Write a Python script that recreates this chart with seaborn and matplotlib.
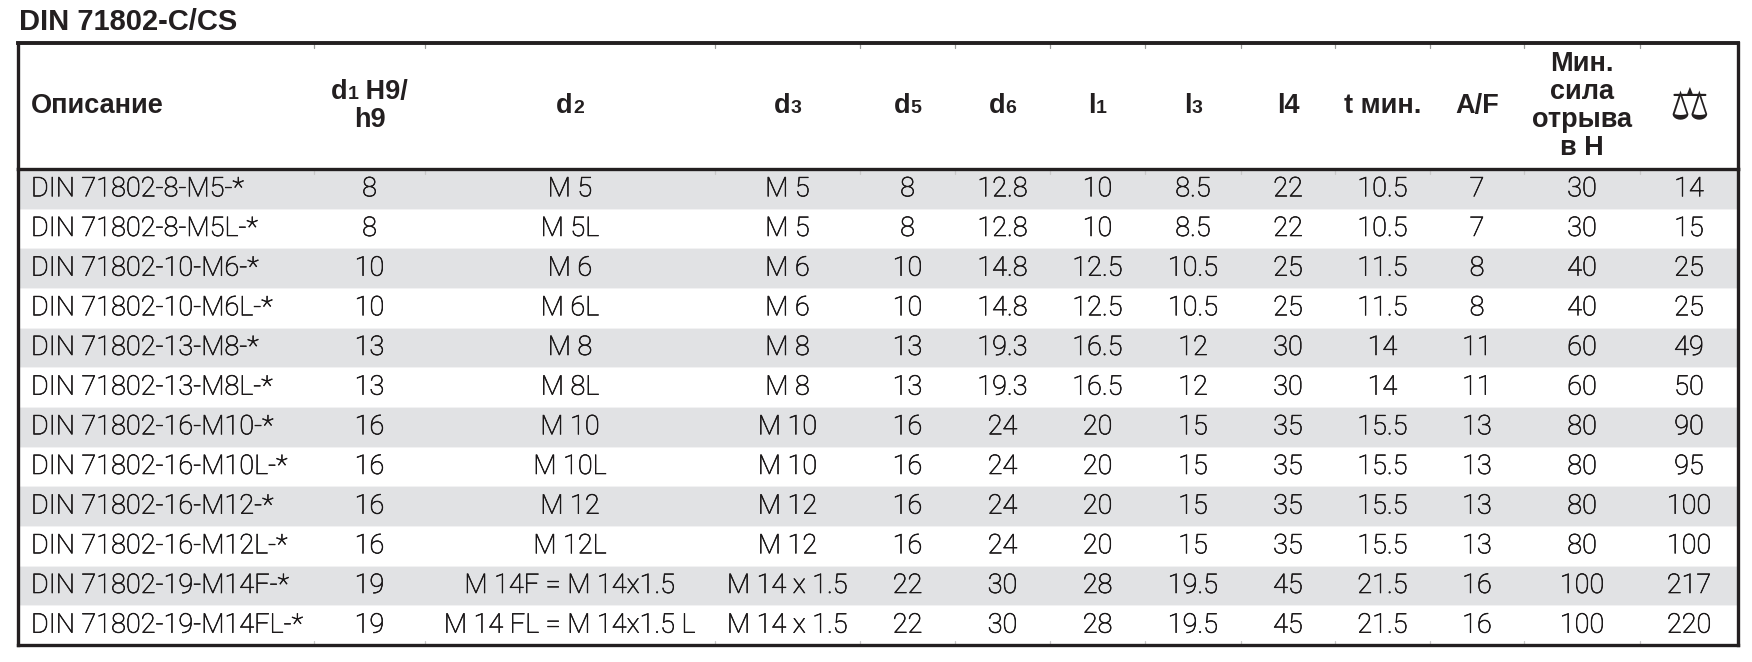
import numpy as np
import pandas as pd
import matplotlib
matplotlib.use("Agg")
import matplotlib.pyplot as plt
import matplotlib.patheffects as pe
from matplotlib.colors import ListedColormap
from matplotlib.transforms import blended_transform_factory
from matplotlib.offsetbox import TextArea, HPacker, VPacker, AnnotationBbox
import seaborn as sns

# ---------------- data ----------------
title = "DIN 71802-C/CS"
# header labels: list of lines, each line a list of (text, is_small) pieces
headers = [
    [[("Описание", False)]],
    [[("d", False), ("1", True), (" H9/", False)], [("h9", False)]],
    [[("d", False), ("2", True)]],
    [[("d", False), ("3", True)]],
    [[("d", False), ("5", True)]],
    [[("d", False), ("6", True)]],
    [[("l", False), ("1", True)]],
    [[("l", False), ("3", True)]],
    [[("l4", False)]],
    [[("t мин.", False)]],
    [[("A/F", False)]],
    [[("Мин.", False)], [("сила", False)], [("отрыва", False)], [("в Н", False)]],
    [[("⚖", False)]],
]
descriptions = ["DIN 71802-8-M5-*", "DIN 71802-8-M5L-*", "DIN 71802-10-M6-*",
                "DIN 71802-10-M6L-*", "DIN 71802-13-M8-*", "DIN 71802-13-M8L-*",
                "DIN 71802-16-M10-*", "DIN 71802-16-M10L-*", "DIN 71802-16-M12-*",
                "DIN 71802-16-M12L-*", "DIN 71802-19-M14F-*", "DIN 71802-19-M14FL-*"]
d1 = ["8", "8", "10", "10", "13", "13", "16", "16", "16", "16", "19", "19"]
d2 = ["M 5", "M 5L", "M 6", "M 6L", "M 8", "M 8L", "M 10", "M 10L", "M 12", "M 12L",
      "M 14F = M 14x1.5", "M 14 FL = M 14x1.5 L"]
d3 = ["M 5", "M 5", "M 6", "M 6", "M 8", "M 8", "M 10", "M 10", "M 12", "M 12",
      "M 14 x 1.5", "M 14 x 1.5"]
d5 = ["8", "8", "10", "10", "13", "13", "16", "16", "16", "16", "22", "22"]
d6 = ["12.8", "12.8", "14.8", "14.8", "19.3", "19.3", "24", "24", "24", "24", "30", "30"]
l1 = ["10", "10", "12.5", "12.5", "16.5", "16.5", "20", "20", "20", "20", "28", "28"]
l3 = ["8.5", "8.5", "10.5", "10.5", "12", "12", "15", "15", "15", "15", "19.5", "19.5"]
l4 = ["22", "22", "25", "25", "30", "30", "35", "35", "35", "35", "45", "45"]
t_min = ["10.5", "10.5", "11.5", "11.5", "14", "14", "15.5", "15.5", "15.5", "15.5", "21.5", "21.5"]
af = ["7", "7", "8", "8", "11", "11", "13", "13", "13", "13", "16", "16"]
force = ["30", "30", "40", "40", "60", "60", "80", "80", "80", "80", "100", "100"]
weight = ["14", "15", "25", "25", "49", "50", "90", "95", "100", "100", "217", "220"]

columns = [descriptions, d1, d2, d3, d5, d6, l1, l3, l4, t_min, af, force, weight]

# ---------------- layout (pixels) ----------------
W, H = 1752, 662
bounds = [18, 314, 425, 715, 860, 955, 1050, 1145, 1241, 1335, 1430, 1524, 1640, 1738]
table_top, head_bot, table_bot = 43, 169, 645

sns.set_theme(style="white")
plt.rcParams["font.family"] = ["Roboto", "DejaVu Sans"]

fig = plt.figure(figsize=(W / 100, H / 100), dpi=100)
fig.patch.set_facecolor("white")

def fy(y):
    return 1 - y / H

left = bounds[0] / W
width = (bounds[-1] - bounds[0]) / W
border_col = "#231f20"

# body axes: row stripes through seaborn heatmap
ax = fig.add_axes([left, fy(table_bot), width, (table_bot - head_bot) / H])
n = len(descriptions)
stripes = pd.DataFrame({"row": [i % 2 for i in range(n)]}, index=descriptions)
sns.heatmap(stripes, ax=ax, cmap=ListedColormap(["#e1e2e4", "#ffffff"]),
            cbar=False, xticklabels=False, yticklabels=False,
            linewidths=0.6, linecolor="#f2f2f3", vmin=0, vmax=1)
ax.set_xlabel("")
ax.set_ylabel("")
for s in ax.spines.values():
    s.set_visible(True)
    s.set_color(border_col)
    s.set_linewidth(2.4)
ax.spines["top"].set_visible(False)

tr = blended_transform_factory(ax.transAxes, ax.transData)
def xf(px):
    return (px - bounds[0]) / (bounds[-1] - bounds[0])

# faint column ticks at the header line and bottom border
for b in bounds[1:-1]:
    ax.plot([xf(b), xf(b)], [0.0, 0.12], transform=tr, color="#c8c8c8", lw=0.9)
    ax.plot([xf(b), xf(b)], [n - 0.1, n], transform=tr, color="#c8c8c8", lw=0.9)

txt_color = "#1a1718"
thicken = [pe.withStroke(linewidth=0.45, foreground=txt_color)]
for ci, col in enumerate(columns):
    for ri, val in enumerate(col):
        if ci == 0:
            x, ha = xf(31), "left"
        else:
            x, ha = xf((bounds[ci] + bounds[ci + 1]) / 2), "center"
        ax.text(x, ri + 0.5, val, transform=tr, ha=ha, va="center",
                fontsize=19.5, fontweight="light", color=txt_color,
                path_effects=thicken)

# header axes
hax = fig.add_axes([left, fy(head_bot), width, (head_bot - table_top) / H])
hax.set_xlim(0, 1)
hax.set_ylim(0, 1)
hax.set_xticks([])
hax.set_yticks([])
hax.set_facecolor("white")
for s in hax.spines.values():
    s.set_color(border_col)
    s.set_linewidth(2.4)
hax.spines["top"].set_linewidth(2.8)
for b in bounds[1:-1]:
    hax.plot([xf(b), xf(b)], [0.96, 1.0], color="#9a9a9a", lw=0.9)

hfam = ["Liberation Sans", "DejaVu Sans"]
big = dict(fontsize=19.5, fontweight="bold", family=hfam, color=border_col)
small = dict(fontsize=14, fontweight="bold", family=hfam, color=border_col)
icon = dict(fontsize=32, family=["DejaVu Sans"], color=border_col)

for ci, lines in enumerate(headers):
    rows = []
    for line in lines:
        pieces = []
        for txt, is_small in line:
            props = icon if txt == "⚖" else (small if is_small else big)
            pieces.append(TextArea(txt, textprops=props))
        rows.append(HPacker(children=pieces, align="baseline", pad=0, sep=0))
    box = VPacker(children=rows, align="center", pad=0, sep=1.5)
    if ci == 0:
        xy, balign = (xf(31), 0.5), (0.0, 0.5)
    else:
        xy, balign = (xf((bounds[ci] + bounds[ci + 1]) / 2), 0.5), (0.5, 0.5)
    ab = AnnotationBbox(box, xy, xycoords=hax.transAxes, box_alignment=balign,
                        frameon=False, pad=0)
    hax.add_artist(ab)

# title
fig.text(19 / W, fy(22), title, ha="left", va="center", fontsize=21,
         fontweight="bold", family=hfam, color=border_col)

fig.savefig("out.png", dpi=100)
